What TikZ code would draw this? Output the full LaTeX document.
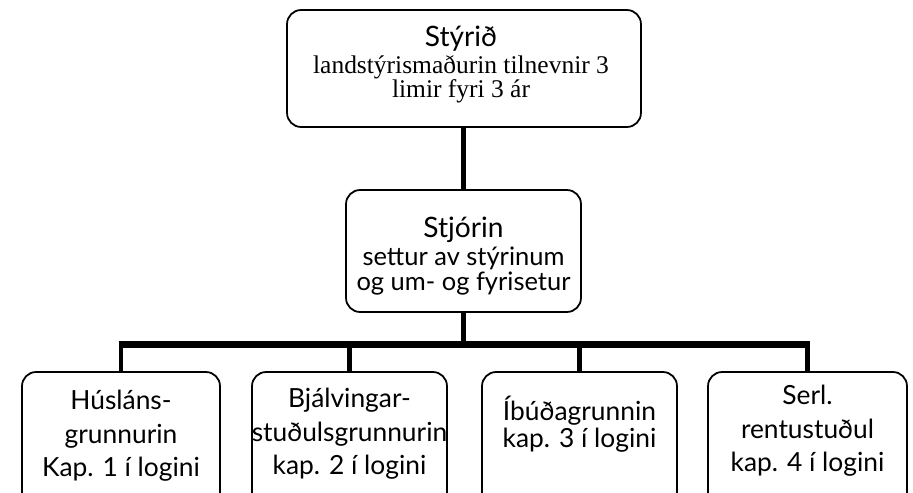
\documentclass[tikz,border=0pt]{standalone}
\usepackage{fontspec}
\setmainfont{Liberation Serif}
\newfontfamily\orgsans{Lato}
\usetikzlibrary{positioning}
\tikzset{
  box/.style={draw=black, line width=1pt, rounded corners=8pt, fill=white},
  txt/.style={align=center, inner sep=0pt, text=black,
    execute at begin node={\lineskiplimit=-50pt}},
  head/.style={txt, font=\orgsans\fontsize{15}{19}\selectfont},
  link/.style={draw=black, line width=2.8pt},
  bar/.style={draw=black, line width=4pt},
  drop/.style={draw=black, line width=2.6pt},
}

\begin{document}
\begin{tikzpicture}[x=0.02cm, y=-0.02cm]
  \useasboundingbox (0,0) rectangle (913,493);
  \clip (0,0) rectangle (913,493);

  % boxes
  \node[box, minimum width=7.08cm, minimum height=2.34cm] (styrid) at (464,68.5) {};
  \node[box, minimum width=4.7cm, minimum height=2.44cm] (stjorin) at (463.5,251) {};
  \node[box, minimum width=3.96cm, minimum height=3.2cm] (husl) at (121,452) {};
  \node[box, minimum width=3.9cm, minimum height=3.2cm] (bjalv) at (349.5,452) {};
  \node[box, minimum width=3.9cm, minimum height=3.2cm] (ibud) at (579.5,452) {};
  \node[box, minimum width=3.98cm, minimum height=3.2cm] (serl) at (807.5,452) {};
  \coordinate (hub) at (463.5,344.5);

  % connectors
  \draw[link] (stjorin.north) -- (stjorin.north |- styrid.south);
  \draw[link] (stjorin.south) -- (hub);
  \draw[bar] ([xshift=-1.3pt]husl.north |- hub) -- ([xshift=1.3pt]serl.north |- hub);
  \draw[drop] (husl.north) -- (husl.north |- hub);
  \draw[drop] (bjalv.north) -- (bjalv.north |- hub);
  \draw[drop] (ibud.north) -- (ibud.north |- hub);
  \draw[drop] (serl.north) -- (serl.north |- hub);

  % texts
  \node[txt, font=\orgsans\fontsize{16}{18}\selectfont] (styridhead) at (461,39) {Stýrið};
  \node[txt, font=\fontsize{14.5}{13.6}\selectfont] (styridsub) at (461,79)
    {landstýrismaðurin tilnevnir 3\\ limir fyri 3 ár};
  \node[txt, font=\orgsans\fontsize{14.5}{14.2}\selectfont] (stjorintxt) at (463.5,256)
    {{\fontsize{16}{16}\selectfont Stjórin}\\[1.5pt]
     settur av stýrinum\\ og um- og fyrisetur};
  \node[head] (husltxt) at (121,436)
    {Húsláns-\\ grunnurin\\ Kap. 1 í logini};
  \node[head] (bjalvtxt) at (349.5,434)
    {Bjálvingar-\\ stuðulsgrunnurin\\ kap. 2 í logini};
  \node[head] (ibudtxt) at (579.5,424)
    {Íbúðagrunnin\\[-3.5pt] kap. 3 í logini};
  \node[head] (serltxt) at (807.5,431)
    {Serl.\\ rentustuðul\\ kap. 4 í logini};
\end{tikzpicture}
\end{document}
